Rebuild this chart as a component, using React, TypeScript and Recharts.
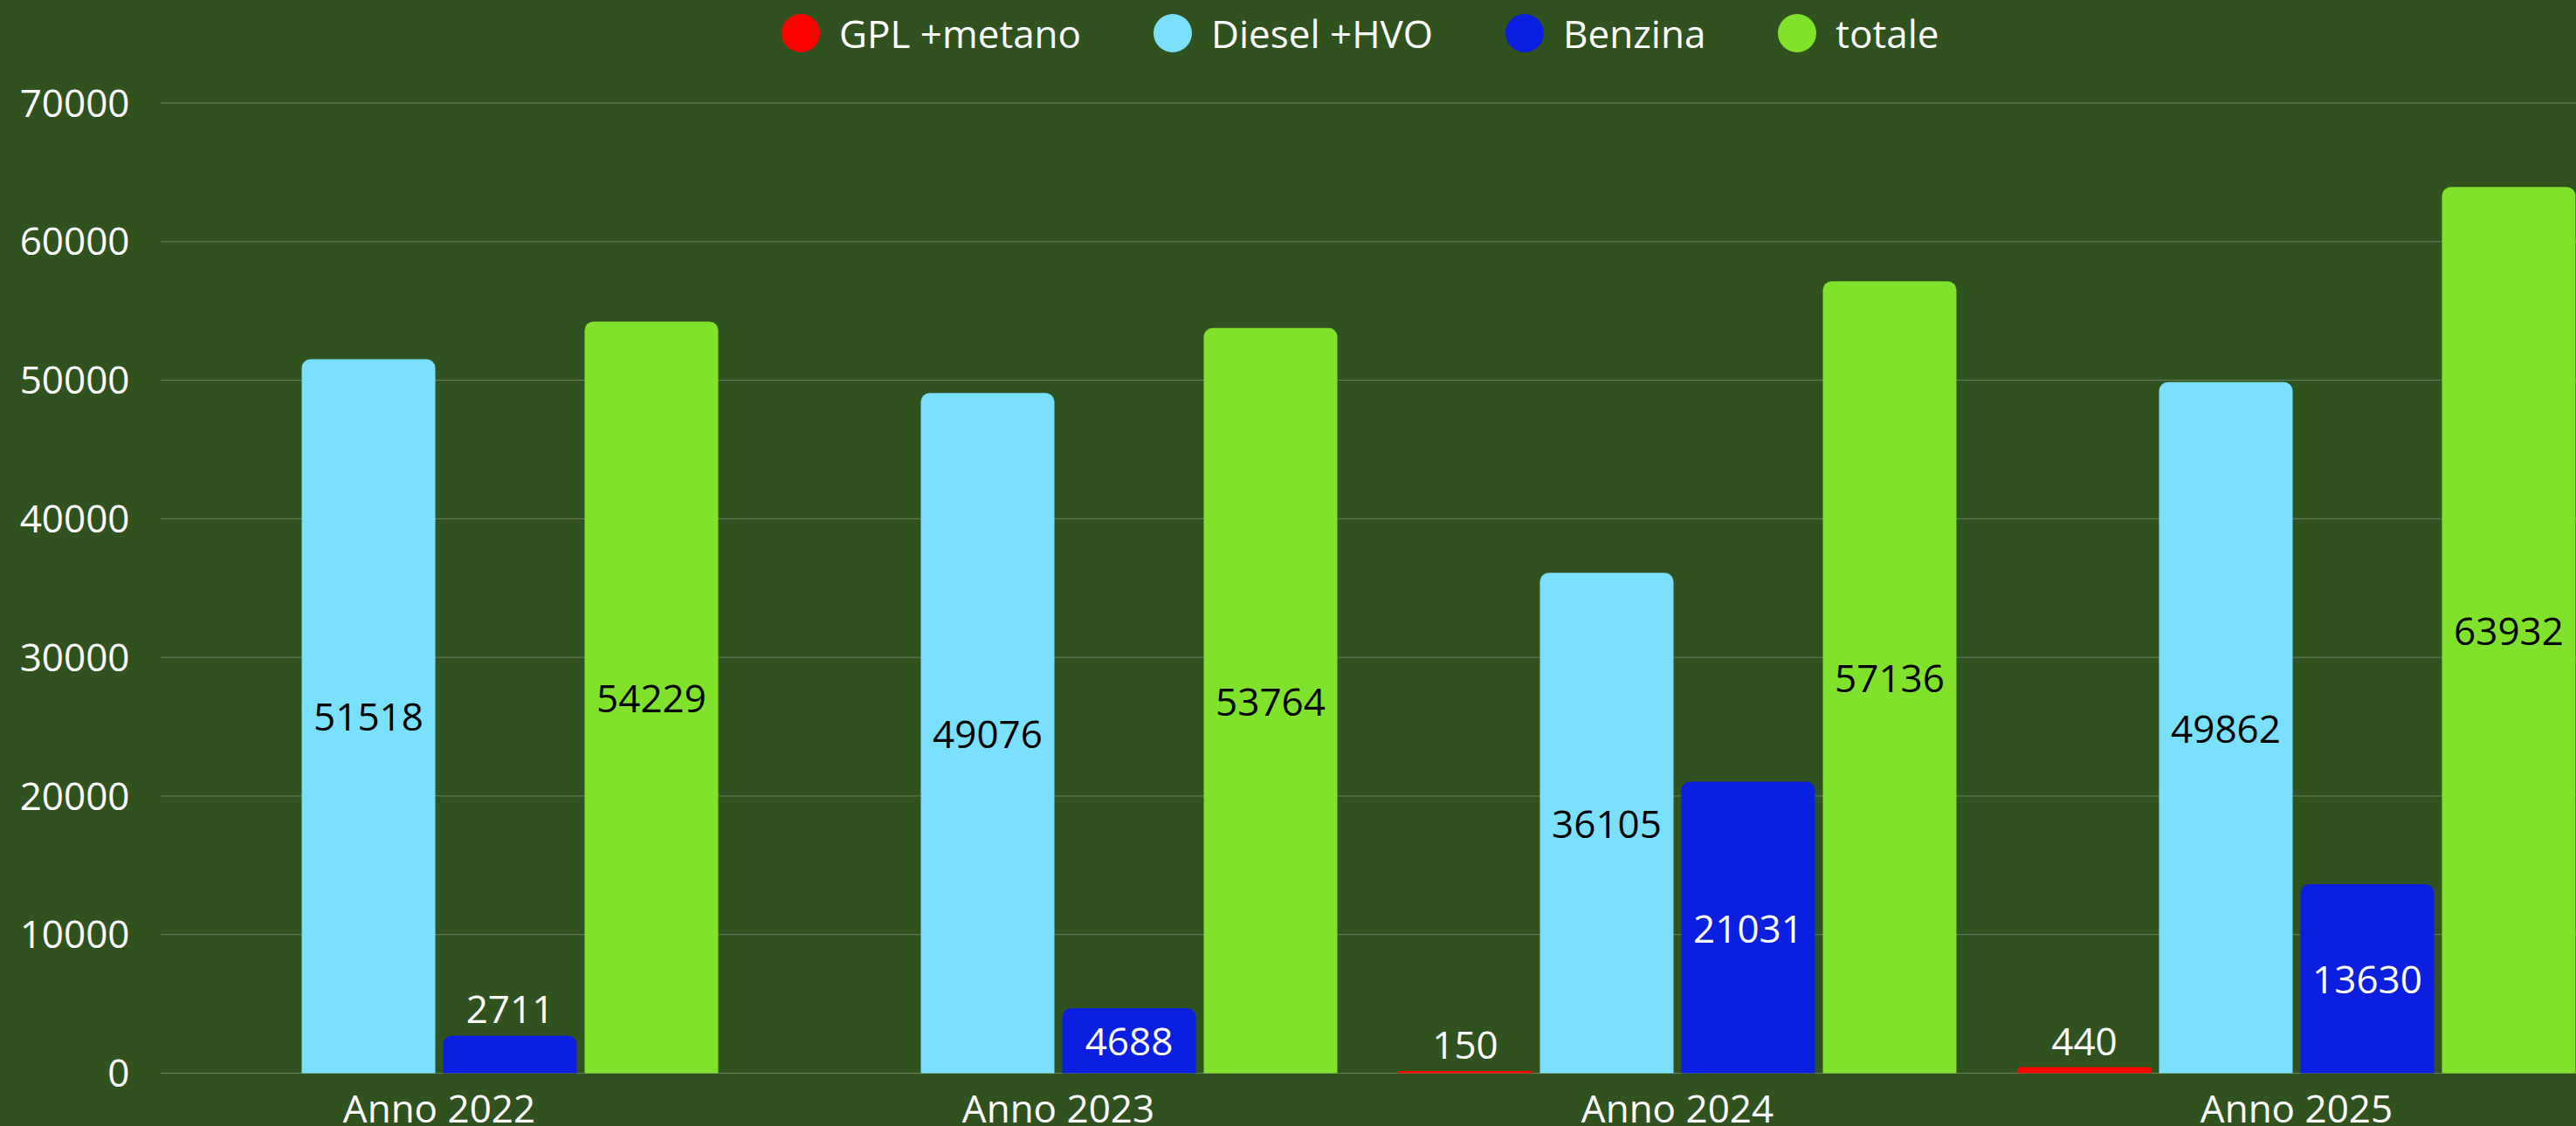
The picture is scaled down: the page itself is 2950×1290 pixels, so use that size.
import React from 'react'
import { BarChart, Bar, XAxis, YAxis, CartesianGrid, Legend, LabelList } from 'recharts'

const categories = ['Anno 2022', 'Anno 2023', 'Anno 2024', 'Anno 2025']
const gplMetano = [null, null, 150, 440]
const dieselHvo = [51518, 49076, 36105, 49862]
const benzina = [2711, 4688, 21031, 13630]
const totale = [54229, 53764, 57136, 63932]
const yTicks = [0, 10000, 20000, 30000, 40000, 50000, 60000, 70000]

const seriesInfo = [
  { key: 'gpl', name: 'GPL +metano', color: '#FF0000', labelColor: '#FFFFFF' },
  { key: 'diesel', name: 'Diesel +HVO', color: '#7AE0FE', labelColor: '#000000' },
  { key: 'benzina', name: 'Benzina', color: '#0A1FE0', labelColor: '#FFFFFF' },
  { key: 'totale', name: 'totale', color: '#81E22B', labelColor: '#000000' },
]

const data = categories.map((name, i) => ({
  name,
  gpl: gplMetano[i],
  diesel: dieselHvo[i],
  benzina: benzina[i],
  totale: totale[i],
}))

const FONT = '"Open Sans", "Noto Sans", sans-serif'

// value inside the bar when it fits, above it (in white) when the bar is too short
const makeLabel = (color: string) => (props: any) => {
  const { x, y, width, height, value } = props
  if (value == null || value === 0) return null
  const cx = Number(x) + Number(width) / 2
  if (Number(height) < 50) {
    return (
      <text x={cx} y={Number(y) - 14} textAnchor="middle" fill="#FFFFFF" fontSize={44} fontFamily={FONT}>
        {value}
      </text>
    )
  }
  return (
    <text x={cx} y={Number(y) + Number(height) / 2} textAnchor="middle" dominantBaseline="central" fill={color} fontSize={44} fontFamily={FONT}>
      {value}
    </text>
  )
}

const renderLegend = () => (
  <div style={{ display: 'flex', alignItems: 'center', height: 44, fontFamily: FONT }}>
    {seriesInfo.map((s, i) => (
      <div key={s.key} style={{ display: 'flex', alignItems: 'center', marginRight: i < seriesInfo.length - 1 ? 83 : 0 }}>
        <span style={{ display: 'inline-block', width: 44, height: 44, borderRadius: '50%', background: s.color, marginRight: 22 }} />
        <span style={{ color: '#FFFFFF', fontSize: 44, lineHeight: '44px', whiteSpace: 'nowrap' }}>{s.name}</span>
      </div>
    ))}
  </div>
)

export default function App() {
  return (
    <div style={{ position: 'absolute', left: 0, top: 0, width: 2950, height: 1290, overflow: 'hidden', background: '#30521F' }}>
      <BarChart
        width={3000}
        height={1320}
        data={data}
        margin={{ top: 118, right: 15.5, left: 8.5, bottom: 30.5 }}
        barSize={153}
        barGap={9}
      >
        <CartesianGrid vertical={false} stroke="#6C8062" x={184} width={2816} />
        <XAxis
          dataKey="name"
          height={60}
          axisLine={false}
          tickLine={false}
          tickSize={0}
          tickMargin={25}
          tick={{ fill: '#FFFFFF', fontSize: 44, fontFamily: FONT }}
        />
        <YAxis
          width={140}
          domain={[0, 70000]}
          ticks={yTicks}
          axisLine={false}
          tickLine={false}
          tickSize={0}
          tickMargin={0}
          tick={{ fill: '#FFFFFF', fontSize: 44, fontFamily: FONT }}
        />
        <Legend
          verticalAlign="middle"
          align="center"
          layout="horizontal"
          content={renderLegend}
          wrapperStyle={{ top: 16, left: 895, width: 'auto' }}
        />
        {seriesInfo.map((s) => (
          <Bar key={s.key} dataKey={s.key} name={s.name} fill={s.color} radius={[10, 10, 0, 0]} isAnimationActive={false}>
            <LabelList dataKey={s.key} content={makeLabel(s.labelColor)} />
          </Bar>
        ))}
      </BarChart>
    </div>
  )
}
